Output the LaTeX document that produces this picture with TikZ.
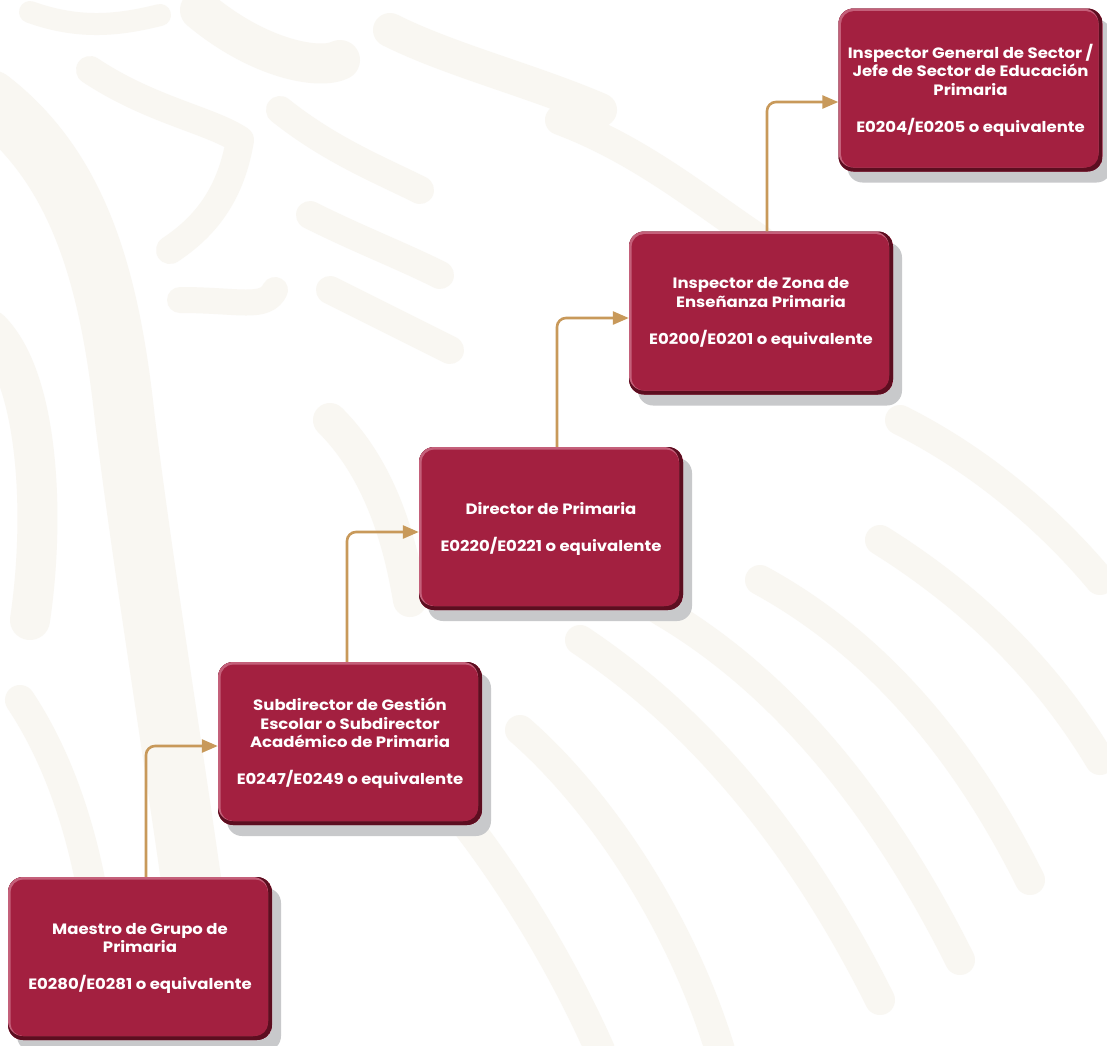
\documentclass[tikz,border=0pt]{standalone}
\usepackage{fontspec}
\setmainfont{Poppins}
\newfontfamily\boxfont{Poppins}[FakeStretch=1.1]
\usetikzlibrary{arrows.meta,shadows,calc}
\definecolor{boxmain}{RGB}{163,32,64}
\definecolor{boxdark}{RGB}{92,14,32}
\definecolor{boxlight}{RGB}{196,96,122}
\definecolor{shadowgrey}{RGB}{200,201,203}
\definecolor{arrowtan}{RGB}{200,153,90}
\definecolor{wmark}{RGB}{249,247,242}
\tikzset{
  careerbox/.style={
    rectangle, rounded corners=15pt, minimum width=264pt, minimum height=163pt,
    inner sep=0pt, fill=boxmain, text=white, align=center,
    font=\boxfont\fontsize{15}{18.5}\selectfont\bfseries,
    drop shadow={shadow xshift=9pt, shadow yshift=-11pt, fill=shadowgrey, opacity=1},
    path picture={
      \fill[boxdark] (path picture bounding box.south west) rectangle (path picture bounding box.north east);
      \fill[boxlight] ($(path picture bounding box.south west)+(0,4pt)$) rectangle ($(path picture bounding box.north east)+(-4pt,0)$);
      \fill[boxmain, rounded corners=13pt] ($(path picture bounding box.south west)+(2.5pt,4pt)$) rectangle ($(path picture bounding box.north east)+(-4pt,-2.5pt)$);
    }
  },
  promo/.style={draw=arrowtan, line width=2.6pt, rounded corners=9pt,
    -{Triangle[length=16pt,width=13pt]}},
  wm/.style={draw=wmark, line cap=round, line join=round}
}
\begin{document}
\begin{tikzpicture}[x=1pt,y=-1pt]
\useasboundingbox[fill=white] (0,0) rectangle (1107,1045);
% faint watermark
\draw[wm, line width=60pt] (-10,100) .. controls (80,170) and (110,280) .. (125,420) .. controls (150,620) and (190,850) .. (215,1060);
\draw[wm, line width=40pt] (-10,330) .. controls (40,380) and (45,520) .. (30,620);
\draw[wm, line width=22pt] (30,12) .. controls (80,30) and (120,25) .. (160,15);
\draw[wm, line width=28pt] (90,70) .. controls (150,110) and (210,120) .. (240,140) .. controls (230,200) and (200,230) .. (170,250);
\draw[wm, line width=26pt] (180,300) .. controls (240,300) and (265,310) .. (275,290);
\draw[wm, line width=40pt] (200,10) .. controls (260,60) and (320,70) .. (340,60);
\draw[wm, line width=28pt] (280,110) .. controls (330,150) and (380,170) .. (420,190);
\draw[wm, line width=28pt] (310,215) .. controls (360,240) and (400,255) .. (440,275);
\draw[wm, line width=28pt] (330,290) .. controls (370,310) and (410,330) .. (450,350);
\draw[wm, line width=34pt] (390,30) .. controls (450,60) and (530,80) .. (600,110);
\draw[wm, line width=30pt] (560,120) .. controls (640,150) and (700,200) .. (760,240);
\draw[wm, line width=30pt] (20,700) .. controls (60,760) and (80,830) .. (90,880);
\draw[wm, line width=34pt] (330,420) .. controls (380,470) and (400,540) .. (410,600);
\draw[wm, line width=30pt] (580,640) .. controls (700,720) and (800,840) .. (880,1000);
\draw[wm, line width=30pt] (660,610) .. controls (780,680) and (880,800) .. (960,960);
\draw[wm, line width=30pt] (760,580) .. controls (870,640) and (960,740) .. (1030,880);
\draw[wm, line width=30pt] (880,540) .. controls (960,590) and (1040,660) .. (1100,760);
\draw[wm, line width=30pt] (900,420) .. controls (980,460) and (1050,520) .. (1100,580);
\draw[wm, line width=30pt] (430,780) .. controls (500,860) and (560,960) .. (600,1050);
\draw[wm, line width=30pt] (520,730) .. controls (600,800) and (680,920) .. (720,1050);

% boxes
\node[careerbox] (m) at (140,958.5) {Maestro de Grupo de\\Primaria\\[18.5pt]E0280/E0281 o equivalente};
\node[careerbox] (s) at (350,743.5) {Subdirector de Gestión\\Escolar o Subdirector\\Académico de Primaria\\[18.5pt]E0247/E0249 o equivalente};
\node[careerbox] (d) at (551,528.5) {Director de Primaria\\[18.5pt]E0220/E0221 o equivalente};
\node[careerbox] (z) at (761,313) {Inspector de Zona de\\Enseñanza Primaria\\[18.5pt]E0200/E0201 o equivalente};
\node[careerbox] (g) at (970.5,90) {Inspector General de Sector /\\Jefe de Sector de Educación\\Primaria\\[18.5pt]E0204/E0205 o equivalente};

% connectors
\draw[promo] ([xshift=6pt]m.north) |- ([yshift=-2.5pt]s.west);
\draw[promo] ([xshift=-3pt]s.north) |- ([yshift=-3.5pt]d.west);
\draw[promo] ([xshift=6pt]d.north) |- ([yshift=-5pt]z.west);
\draw[promo] ([xshift=6pt]z.north) |- ([yshift=-12pt]g.west);
\end{tikzpicture}
\end{document}
